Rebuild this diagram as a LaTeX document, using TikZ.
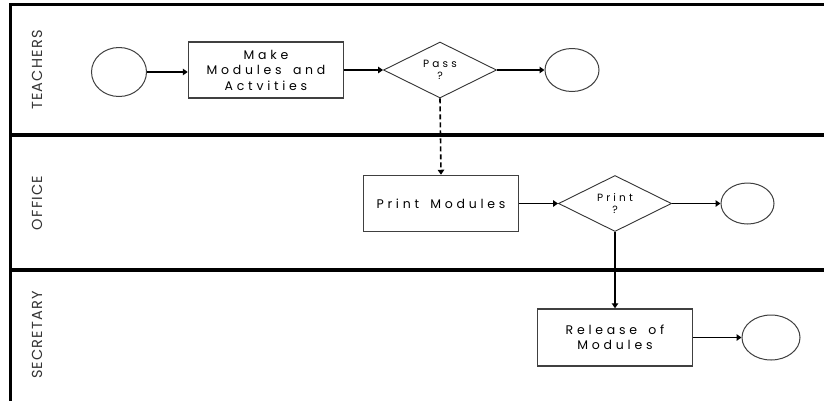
\documentclass[tikz,border=0pt]{standalone}
\usepackage{fontspec}
\setmainfont{Poppins}
\newfontfamily\taskfont[LetterSpace=30,WordSpace=1.6]{Poppins}
\newfontfamily\lanefont[LetterSpace=8]{Poppins}
\usetikzlibrary{shapes.geometric,arrows.meta}
\begin{document}
\begin{tikzpicture}[x=1pt,y=-1pt,
  frameline/.style={line width=3pt,line cap=rect},
  laneline/.style={line width=4.5pt},
  lanelabel/.style={rotate=90,font=\lanefont\fontsize{14.5}{16}\selectfont,text=black!80},
  task/.style={draw=black!75,line width=1.5pt,rectangle,minimum width=155pt,minimum height=56pt,
    inner sep=0pt,align=center,font=\taskfont\fontsize{12.5}{15.5}\selectfont},
  gate/.style={draw=black!80,line width=0.9pt,diamond,aspect=2,minimum width=113pt,minimum height=56pt,
    inner sep=0pt,align=center,font=\taskfont\fontsize{10.5}{12.5}\selectfont},
  event/.style={draw=black!75,line width=1pt,ellipse,inner sep=0pt},
  flow/.style={line width=1.6pt,-{Triangle[length=5pt,width=6.5pt]}},
  dashflow/.style={flow,dash pattern=on 5pt off 3pt}
]
\fill[white] (0,0) rectangle (824,400);
\useasboundingbox (0,0) rectangle (824,400);

% pool frame and lane separators
\draw[frameline] (824,4) -- (10,4) -- (10,402);
\draw[laneline] (10,135) -- (826,135);
\draw[laneline] (10,270) -- (826,270);

% lane labels
\node[lanelabel] (lteach) at (37,70) {TEACHERS};
\node[lanelabel] (loffice) at (37,203) {OFFICE};
\node[lanelabel] (lsec) at (37,335) {SECRETARY};

% teachers lane
\node[event,minimum width=55pt,minimum height=49pt] (s1) at (119,72) {};
\node[task] (t1) at (266,70) {Make\\Modules and\\Actvities};
\node[gate] (d1) at (440,70) {Pass\\?};
\node[event,minimum width=54pt,minimum height=43pt] (e1) at (572,70) {};

% office lane
\node[task] (t2) at (441,203.5) {Print Modules};
\node[gate] (d2) at (615,203.5) {Print\\?};
\node[event,minimum width=53pt,minimum height=41pt] (e2) at (747.5,203.5) {};

% secretary lane
\node[task,minimum height=57pt] (t3) at (615,337.5) {Release of\\Modules};
\node[event,minimum width=58pt,minimum height=45pt] (e3) at (771,337.5) {};

% sequence flows
\draw[flow] (s1.east) -- (s1.east -| t1.west);
\draw[flow] (t1) -- (d1);
\draw[flow] (d1) -- (e1);
\draw[dashflow] (d1.south) -- (t2.north);
\draw[flow] (t2) -- (d2);
\draw[flow] (d2) -- (e2);
\draw[flow] (d2.south) -- (t3.north);
\draw[flow] (t3) -- (e3);
\end{tikzpicture}
\end{document}
